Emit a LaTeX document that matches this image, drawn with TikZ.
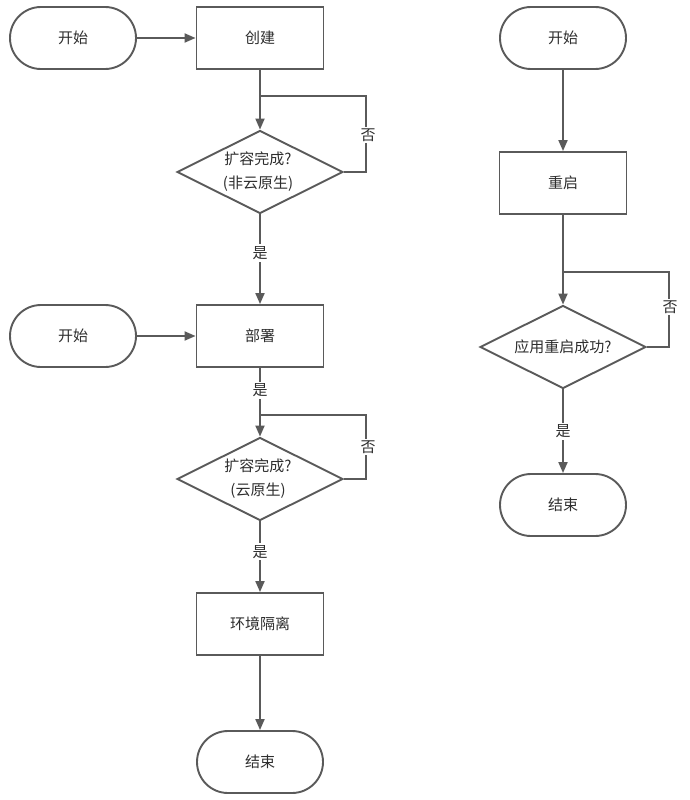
\documentclass[tikz,border=0pt]{standalone}
\usepackage{fontspec}
\setmainfont{Noto Sans CJK SC}
\usetikzlibrary{shapes.geometric,shapes.misc,arrows.meta}
\definecolor{lc}{HTML}{5A5A5A}
\definecolor{tc}{HTML}{2E2E2E}
\begin{document}
\begin{tikzpicture}[x=1pt,y=-1pt,
  txt/.style={font=\fontsize{15}{24}\selectfont, text=tc, align=center, inner sep=1pt},
  term/.style={rounded rectangle, draw=lc, line width=1.9pt, minimum width=126pt, minimum height=62pt, inner sep=0pt, font=\fontsize{15}{18}\selectfont, text=tc},
  proc/.style={rectangle, draw=lc, line width=1.9pt, minimum width=127pt, minimum height=62pt, inner sep=0pt, font=\fontsize{15}{18}\selectfont, text=tc},
  dec/.style={diamond, draw=lc, line width=1.9pt, minimum width=166pt, minimum height=83pt, inner sep=0pt},
  conn/.style={draw=lc, line width=1.9pt},
  arr/.style={conn, -{Triangle[length=11pt,width=9pt]}},
  lab/.style={fill=white, font=\fontsize{15}{18}\selectfont, text=tc, inner sep=2pt}]
\useasboundingbox[fill=white] (0,0) rectangle (689,800);

% left column
\node[term] (s1) at (73,38) {开始};
\node[proc] (b1) at (260,38) {创建};
\node[dec] (d1) at (260,172) {};
\node[txt] (t1) at (258,172) {扩容完成?\\(非云原生)};
\node[term] (s2) at (73,336) {开始};
\node[proc] (b2) at (260,336) {部署};
\node[dec] (d2) at (260,479) {};
\node[txt] (t2) at (258,479) {扩容完成?\\(云原生)};
\node[proc] (b3) at (260,624) {环境隔离};
\node[term] (e1) at (260,762) {结束};

\coordinate (c1) at (366,96);
\coordinate (j1) at (260,96);
\coordinate (c2) at (366,415);
\coordinate (j2) at (260,415);

\draw[arr] (s1) -- (b1);
\draw[arr] (b1) -- (d1);
\draw[conn] (d1.east) -| (c1) -- (j1);
\node[lab] (n1) at (368,135) {否};
\draw[arr] (d1) -- node[lab, pos=0.43] (y1) {是} (b2);
\draw[arr] (s2) -- (b2);
\draw[arr] (b2) -- node[lab, pos=0.33] (y2) {是} (d2);
\draw[conn] (d2.east) -| (c2) -- (j2);
\node[lab] (n2) at (368,447) {否};
\draw[arr] (d2) -- node[lab, pos=0.43] (y3) {是} (b3);
\draw[arr] (b3) -- (e1);

% right column
\node[term] (s3) at (563,38) {开始};
\node[proc] (b4) at (563,183) {重启};
\node[dec] (d3) at (563,347) {};
\node[txt] (t3) at (563,347) {应用重启成功?};
\node[term] (e2) at (563,505) {结束};

\coordinate (c3) at (669,272);
\coordinate (j3) at (563,272);

\draw[arr] (s3) -- (b4);
\draw[arr] (b4) -- (d3);
\draw[conn] (d3.east) -| (c3) -- (j3);
\node[lab] (n3) at (670,307) {否};
\draw[arr] (d3) -- node[lab, pos=0.5] (y4) {是} (e2);
\end{tikzpicture}
\end{document}
